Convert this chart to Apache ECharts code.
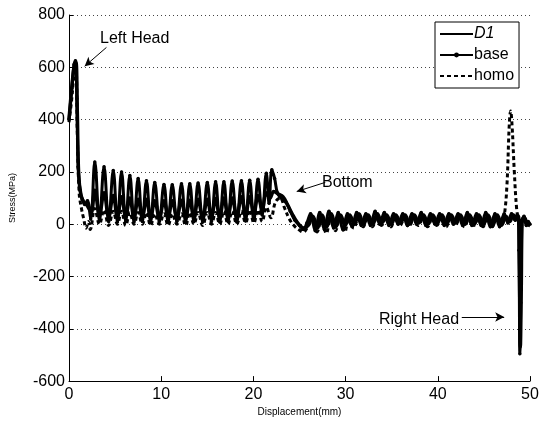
<!DOCTYPE html>
<html>
<head>
<meta charset="utf-8">
<title>Stress vs Displacement</title>
<script src="https://cdn.jsdelivr.net/npm/echarts@6/dist/echarts.min.js"></script>
<style>
  html, body { margin: 0; padding: 0; background: #fff; }
  #chart { width: 545px; height: 422px; }
</style>
</head>
<body>
<div id="chart"></div>
<script>
// tick values
const xTicks = [0, 10, 20, 30, 40, 50];
const yTicks = [-600, -400, -200, 0, 200, 400, 600, 800];

// [displacement mm, stress MPa]
const d1 = [
  [0, 400], [0.35, 540], [0.6, 615], [0.75, 620], [0.9, 430], [1.05, 190], [1.3, 110], [1.6, 85], [2.0, 70], [2.4, 45],
  [2.8, 130], [3.3, 35], [3.8, 120], [4.3, 30], [4.8, 110], [5.25, 30], [5.7, 105], [6.15, 30], [6.6, 100], [7.05, 28],
  [7.5, 95], [7.95, 28], [8.4, 95], [8.85, 25], [9.3, 90], [9.8, 25], [10.3, 90], [10.75, 25], [11.2, 90], [11.7, 25],
  [12.2, 92], [12.65, 25], [13.1, 92], [13.55, 25], [14.0, 95], [14.5, 25], [15.0, 95], [15.45, 28], [15.9, 98], [16.35, 28],
  [16.8, 100], [17.25, 30], [17.7, 100], [18.2, 30], [18.7, 105], [19.15, 35], [19.6, 105], [20.05, 40], [20.5, 110], [20.95, 55],
  [21.4, 120], [21.8, 100], [22.2, 125], [22.7, 115], [23.2, 105], [23.7, 75], [24.2, 40], [24.7, 10], [25.2, -10], [25.6, -15], [26.0, 0],
  [26.45, 30], [26.95, -15], [27.45, 35], [27.95, -10], [28.45, 40], [28.95, -10], [29.45, 35], [29.95, -5], [30.45, 35], [30.95, 0],
  [31.45, 40], [31.95, 0], [32.45, 35], [32.95, 0], [33.45, 40], [33.95, 5], [34.45, 35], [34.95, 0], [35.45, 35], [35.95, 5],
  [36.45, 35], [36.95, 0], [37.45, 35], [37.95, 5], [38.45, 35], [38.95, 0], [39.45, 35], [39.95, 5], [40.45, 35], [40.95, 0],
  [41.45, 35], [41.95, 5], [42.45, 35], [42.95, 0], [43.45, 35], [43.95, 0], [44.45, 35], [44.95, 0], [45.45, 35], [45.95, -5],
  [46.45, 35], [46.95, 0], [47.4, 30], [47.8, 10], [48.2, 35], [48.6, 25], [48.75, 30], [48.85, -150], [48.95, -470], [49.05, -250],
  [49.15, 15], [49.4, 25], [49.7, 0], [50, -5]
];

const base = [
  [0, 400], [0.3, 520], [0.55, 610], [0.7, 625], [0.85, 480], [1.0, 220], [1.2, 130], [1.45, 95], [1.7, 75], [2.0, 90], [2.35, 20],
  [2.8, 238], [3.3, 12], [3.8, 220], [4.3, 10], [4.8, 205], [5.25, 8], [5.7, 200], [6.15, 10], [6.6, 186], [7.05, 8],
  [7.5, 175], [7.95, 10], [8.4, 166], [8.85, 8], [9.3, 159], [9.8, 10], [10.3, 152], [10.75, 8], [11.2, 151], [11.7, 10],
  [12.2, 155], [12.65, 8], [13.1, 155], [13.55, 10], [14.0, 158], [14.5, 8], [15.0, 159], [15.45, 10], [15.9, 162], [16.35, 8],
  [16.8, 162], [17.25, 10], [17.7, 165], [18.2, 8], [18.7, 166], [19.15, 12], [19.6, 168], [20.05, 15], [20.5, 172], [20.95, 35],
  [21.4, 195], [21.7, 80], [22.0, 208], [22.3, 175], [22.6, 120], [23.0, 100], [23.5, 85], [24.0, 50], [24.5, 15], [25.0, -5], [25.4, -20], [25.8, 5],
  [26.2, 40], [26.7, -25], [27.2, 45], [27.7, -20], [28.2, 50], [28.7, -15], [29.2, 45], [29.7, -20], [30.2, 40], [30.7, -10],
  [31.2, 45], [31.7, -5], [32.2, 40], [32.7, -5], [33.2, 50], [33.7, 0], [34.2, 45], [34.7, -5], [35.2, 40], [35.7, 0],
  [36.2, 40], [36.7, -5], [37.2, 40], [37.7, 0], [38.2, 45], [38.7, -5], [39.2, 40], [39.7, 0], [40.2, 40], [40.7, -5],
  [41.2, 40], [41.7, 0], [42.2, 40], [42.7, -5], [43.2, 45], [43.7, -5], [44.2, 40], [44.7, -5], [45.2, 45], [45.7, -10],
  [46.2, 40], [46.7, -10], [47.2, 40], [47.6, 5], [48.0, 40], [48.4, 15], [48.65, 35], [48.8, -100], [48.9, -495], [49.0, -300],
  [49.1, 10], [49.35, 30], [49.6, -5], [49.8, 10], [50, 0]
];

const homo = [
  [0, 390], [0.3, 480], [0.6, 590], [0.75, 600], [0.9, 350], [1.1, 120], [1.35, 60], [1.6, 20], [1.85, -15], [2.1, 10], [2.3, -20],
  [2.8, 60], [3.3, 0], [3.8, 55], [4.3, -5], [4.8, 50], [5.25, 0], [5.7, 50], [6.15, -5], [6.6, 45], [7.05, 0],
  [7.5, 45], [7.95, 0], [8.4, 45], [8.85, -5], [9.3, 40], [9.8, 0], [10.3, 40], [10.75, -5], [11.2, 40], [11.7, 0],
  [12.2, 40], [12.65, -5], [13.1, 45], [13.55, 0], [14.0, 45], [14.5, -5], [15.0, 45], [15.45, 0], [15.9, 45], [16.35, 0],
  [16.8, 50], [17.25, 0], [17.7, 50], [18.2, 0], [18.7, 50], [19.15, 5], [19.6, 55], [20.05, 5], [20.5, 55], [20.95, 10],
  [21.4, 65], [21.9, 25], [22.4, 85], [22.9, 100], [23.4, 60], [23.9, 20], [24.4, -5], [24.9, -20], [25.4, -30], [25.9, -10],
  [26.4, 20], [26.9, -30], [27.4, 25], [27.9, -35], [28.4, 25], [28.9, -25], [29.4, 30], [29.9, -30], [30.4, 25], [30.9, -15],
  [31.4, 30], [31.9, -10], [32.4, 25], [32.9, -10], [33.4, 30], [33.9, -5], [34.4, 25], [34.9, -10], [35.4, 25], [35.9, -5],
  [36.4, 25], [36.9, -10], [37.4, 25], [37.9, -5], [38.4, 25], [38.9, -10], [39.4, 25], [39.9, -5], [40.4, 25], [40.9, -10],
  [41.4, 25], [41.9, -5], [42.4, 25], [42.9, -10], [43.4, 25], [43.9, -5], [44.4, 25], [44.9, -10], [45.4, 25], [45.9, -10],
  [46.4, 25], [46.9, -5], [47.2, 30], [47.5, 150], [47.75, 380], [47.9, 433], [48.05, 380], [48.3, 200], [48.55, 60], [48.75, 20],
  [49.0, 5], [49.3, 15], [49.6, 0], [50, 5]
];

// annotation arrows in data units: [from, to]
const arrows = [
  [[4.06, 676], [1.7, 604]],
  [[27.8, 160], [24.7, 125]],
  [[42.6, -355], [47.2, -355]]
];

const font = "'Liberation Sans', Arial, sans-serif";
const chart = echarts.init(document.getElementById('chart'));

chart.setOption({
  animation: false,
  backgroundColor: '#fff',
  grid: { left: 62, right: 15, top: 15, bottom: 36 },
  legend: {
    orient: 'vertical',
    left: 435,
    top: 22,
    padding: [3, 5, 3, 4],
    itemWidth: 33,
    itemHeight: 6,
    itemGap: 3,
    borderColor: '#000',
    borderWidth: 1,
    backgroundColor: '#fff',
    textStyle: { fontFamily: font, fontSize: 16, lineHeight: 18, color: '#000', padding: [0, 0, 0, -4] },
    data: [
      { name: 'D1', textStyle: { fontStyle: 'italic' }, itemStyle: { opacity: 0 } },
      { name: 'base' },
      { name: 'homo', itemStyle: { opacity: 0 } }
    ]
  },
  xAxis: {
    type: 'value',
    min: xTicks[0],
    max: xTicks[xTicks.length - 1],
    interval: 10,
    name: 'Displacement(mm)',
    nameLocation: 'middle',
    nameGap: 25,
    nameTextStyle: { fontFamily: font, fontSize: 10, color: '#000' },
    axisLine: { onZero: false, lineStyle: { color: '#000', width: 1 } },
    axisTick: { inside: true, length: 5, lineStyle: { color: '#000' } },
    axisLabel: { fontFamily: font, fontSize: 16, color: '#000', margin: 5 },
    splitLine: { show: false }
  },
  yAxis: {
    type: 'value',
    min: yTicks[0],
    max: yTicks[yTicks.length - 1],
    interval: 200,
    name: 'Stress(MPa)',
    nameLocation: 'middle',
    nameGap: 52,
    nameTextStyle: { fontFamily: font, fontSize: 9, color: '#000' },
    axisLine: { show: true, onZero: false, lineStyle: { color: '#000', width: 1 } },
    axisTick: { show: true, inside: true, length: 4, lineStyle: { color: '#000' } },
    axisLabel: { fontFamily: font, fontSize: 16, color: '#000', margin: 4 },
    splitLine: { show: true, lineStyle: { color: '#444', type: [1, 3], width: 1 } }
  },
  series: [
    {
      name: 'homo',
      type: 'line',
      data: homo,
      smooth: 0.4,
      symbol: 'none',
      lineStyle: { color: '#000', width: 3, type: [4, 3] },
      itemStyle: { color: '#000' },
      z: 2
    },
    {
      name: 'base',
      type: 'line',
      data: base,
      smooth: 0.4,
      symbol: 'circle',
      symbolSize: 3.5,
      showSymbol: true,
      lineStyle: { color: '#000', width: 3 },
      itemStyle: { color: '#000' },
      z: 3
    },
    {
      name: 'D1',
      type: 'line',
      data: d1,
      smooth: 0.4,
      symbol: 'none',
      lineStyle: { color: '#000', width: 3.5 },
      itemStyle: { color: '#000' },
      z: 4,
      markLine: {
        silent: true,
        symbol: ['none', 'arrow'],
        symbolSize: [7, 9],
        label: { show: false },
        lineStyle: { color: '#000', width: 1, type: 'solid' },
        data: arrows.map(a => [{ coord: a[0] }, { coord: a[1] }])
      }
    }
  ],
  graphic: [
    { type: 'text', left: 100, top: 31, style: { text: 'Left Head', font: '16px ' + font, fill: '#000' } },
    { type: 'text', left: 322, top: 175, style: { text: 'Bottom', font: '16px ' + font, fill: '#000' } },
    { type: 'text', left: 379, top: 312, style: { text: 'Right Head', font: '16px ' + font, fill: '#000' } }
  ]
});
</script>
</body>
</html>
